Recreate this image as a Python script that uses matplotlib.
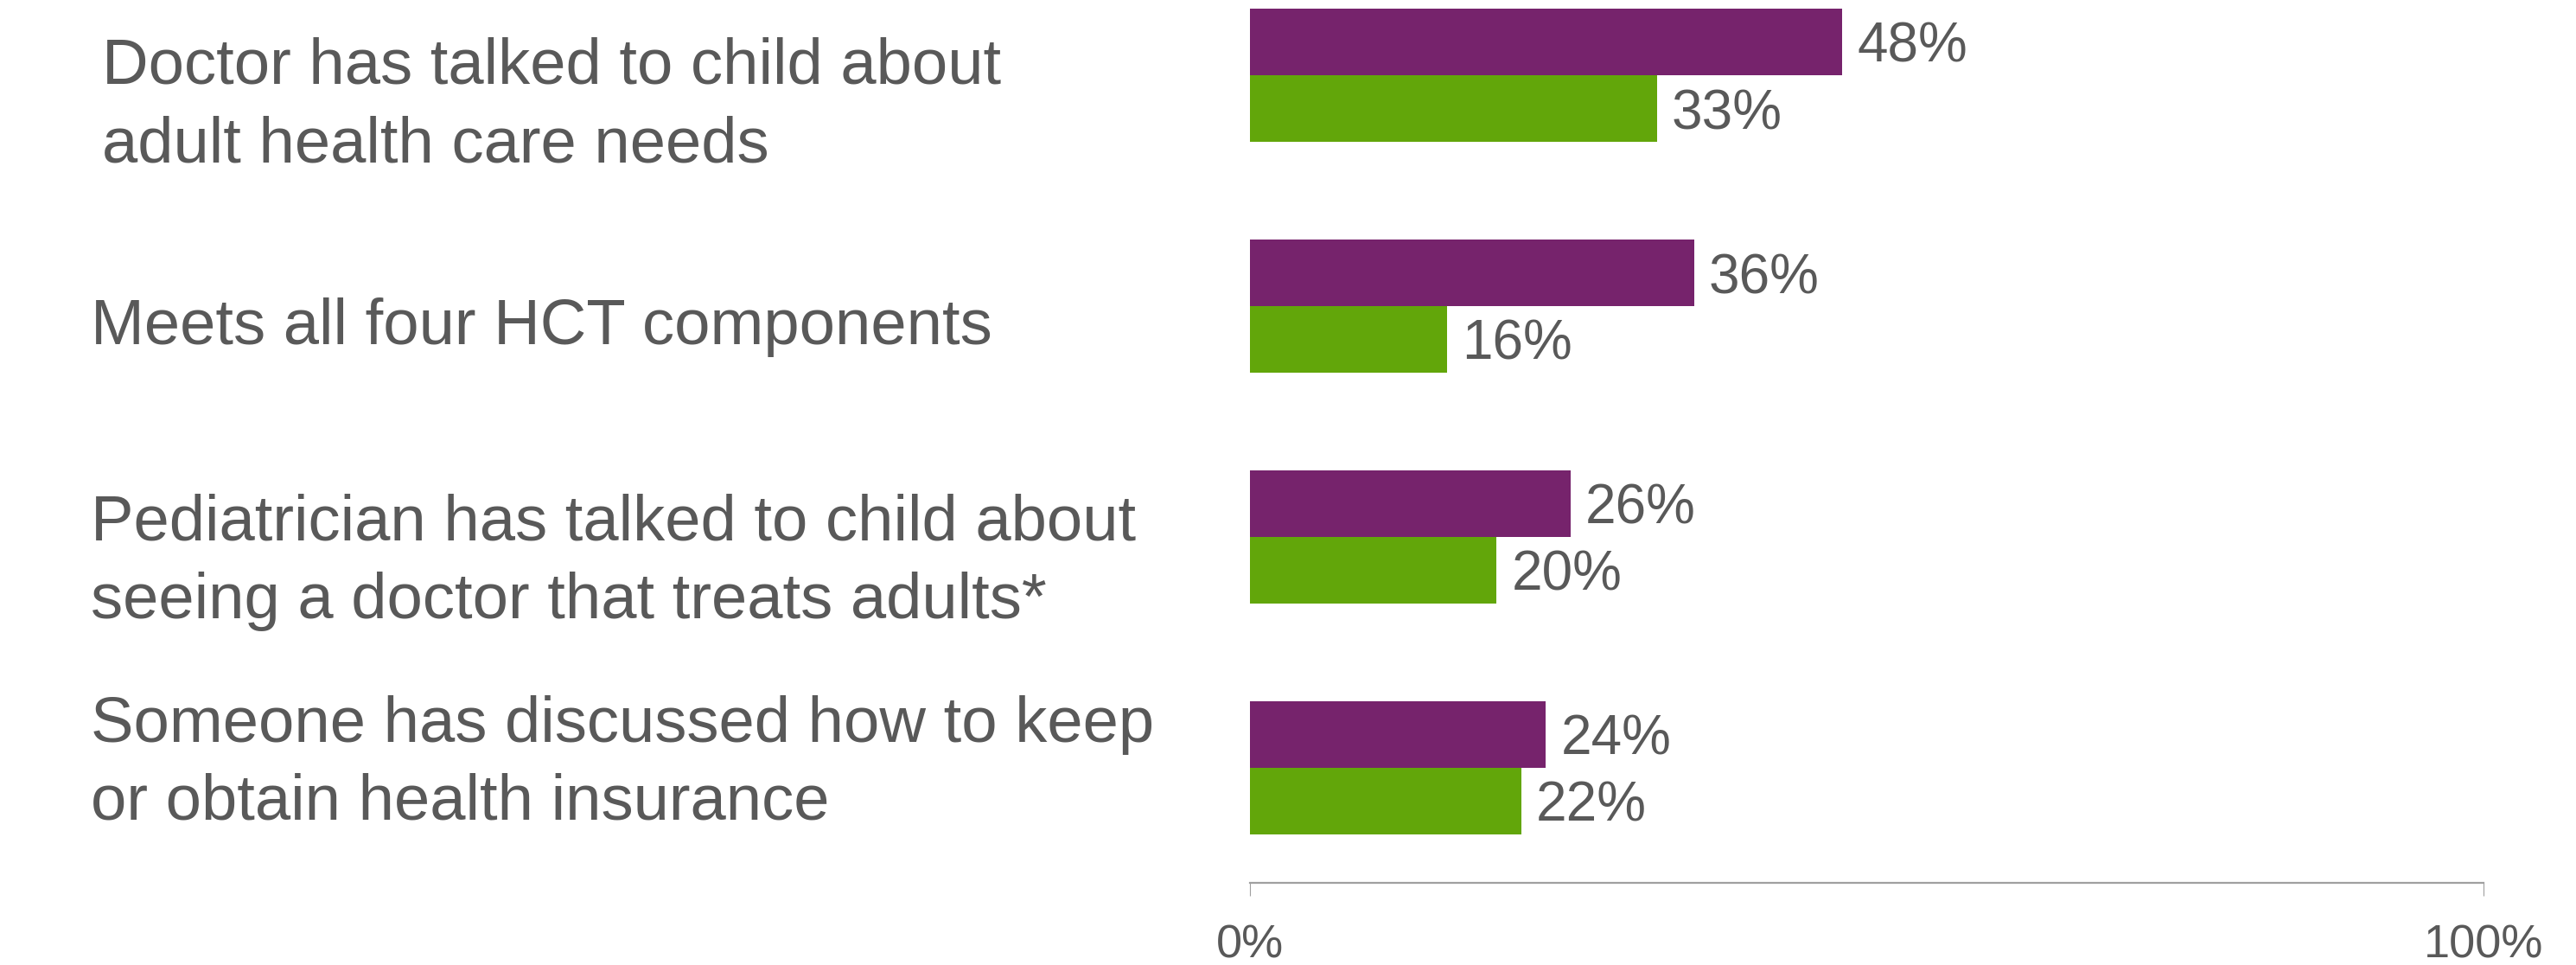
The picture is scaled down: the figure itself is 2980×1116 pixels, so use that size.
import numpy as np
import matplotlib
matplotlib.use("Agg")
import matplotlib.pyplot as plt

# data
categories = [
    "Doctor has talked to child about\nadult health care needs",
    "Meets all four HCT components",
    "Pediatrician has talked to child about\nseeing a doctor that treats adults*",
    "Someone has discussed how to keep\nor obtain health insurance",
]
series_a = [48, 36, 26, 24]   # purple
series_b = [33, 16, 20, 22]   # green
xticks = [0, 100]
xtick_labels = ["0%", "100%"]

PURPLE = "#76236C"
GREEN = "#62A60A"
TEXT = "#595959"
AXIS = "#A0A0A0"

plt.rcParams["font.family"] = ["Liberation Sans", "DejaVu Sans"]

W, H = 2980, 1116
fig = plt.figure(figsize=(W / 100, H / 100), dpi=100)

# axes: x from 0% at px 1446 to 100% at px 2873, bottom spine at px 1021
left, right = 1446 / W, 2873 / W
ax = fig.add_axes([left, 1 - 1021 / H, right - left, 1021 / H])

spacing = 267.0          # px between groups
bar_h = 77 / spacing     # bar thickness in data units
y = np.arange(len(categories))

ax.barh(y - bar_h / 2, series_a, height=bar_h, color=PURPLE)
ax.barh(y + bar_h / 2, series_b, height=bar_h, color=GREEN)

for i in range(len(categories)):
    ax.text(series_a[i] + 1.2, y[i] - bar_h / 2, f"{series_a[i]}%",
            va="center_baseline", ha="left", fontsize=46, color=TEXT)
    ax.text(series_b[i] + 1.2, y[i] + bar_h / 2, f"{series_b[i]}%",
            va="center_baseline", ha="left", fontsize=46, color=TEXT)

ax.set_xlim(0, 100)
ax.set_ylim((1021 - 87) / spacing, -87 / spacing)

for s in ["top", "right", "left"]:
    ax.spines[s].set_visible(False)
ax.spines["bottom"].set_color(AXIS)
ax.spines["bottom"].set_linewidth(1.6)
ax.set_yticks([])
ax.set_xticks(xticks)
ax.set_xticklabels(xtick_labels)
ax.tick_params(axis="x", direction="out", length=11, width=0.8, color=AXIS,
               pad=23, labelsize=39, labelcolor=TEXT)

# category labels (last-line baseline, in px from top)
label_x = [118, 105, 105, 105]
label_base = [187, 398, 715, 948]
for i, lab in enumerate(categories):
    fig.text(label_x[i] / W, 1 - label_base[i] / H, lab, ha="left",
             va="baseline", fontsize=53.5, color=TEXT, linespacing=1.39)

fig.savefig("out.png", dpi=100)
